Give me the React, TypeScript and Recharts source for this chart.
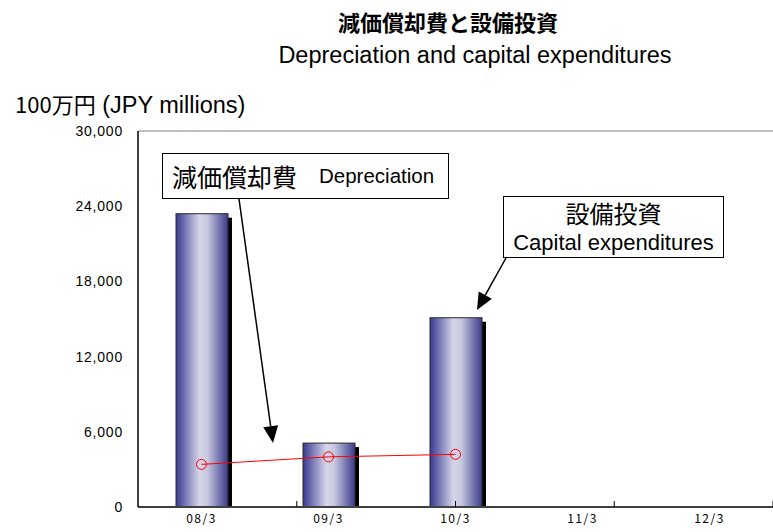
import React from 'react';
import { ComposedChart, Bar, Line, XAxis, YAxis, ReferenceLine } from 'recharts';

const categories = ['08/3', '09/3', '10/3', '11/3', '12/3'];
const capex = [23400, 5100, 15100, null, null];
const depreciation = [3400, 4000, 4200, null, null];
const yTicks = [0, 6000, 12000, 18000, 24000, 30000];
const bandTicks = [1, 2, 3, 4];

const data = categories.map((c, i) => ({ name: c, capex: capex[i], depreciation: depreciation[i] }));

const SANS = '"Liberation Sans", Arial, sans-serif';
const JP = '"Noto Sans CJK JP", sans-serif';

// bar with the drop shadow and the cylinder-like shading
const ShadedBar = (props: any) => {
    const { x, y, width, height } = props;
    if (!height || height <= 0) return null;
    return (
        <g>
            <rect x={x + 4} y={y + 4} width={width} height={height - 4} fill="#000" />
            <rect x={x} y={y} width={width} height={height} fill="url(#barShade)" stroke="#2a2a2a" strokeWidth={1} />
        </g>
    );
};

// y tick label, drawn by hand so the size sticks
const YTick = (props: any) => {
    const { x, y, payload } = props;
    return (
        <text x={x} y={y} dy={5} textAnchor="end" fontSize={14} fontFamily={SANS} fill="#000" letterSpacing={0.8}>
            {Number(payload.value).toLocaleString('en-US')}
        </text>
    );
};

const XTick = (props: any) => {
    const { x, y, payload } = props;
    return (
        <text x={x} y={y} dy={11} textAnchor="middle" fontSize={12} fontFamily={JP} fill="#000" letterSpacing={1.5}>
            {payload.value}
        </text>
    );
};

// arrow line with a filled head at the tip
const Arrow = ({ x1, y1, x2, y2 }: { x1: number; y1: number; x2: number; y2: number }) => {
    const dx = x2 - x1;
    const dy = y2 - y1;
    const len = Math.sqrt(dx * dx + dy * dy);
    const ux = dx / len;
    const uy = dy / len;
    const headLen = 17;
    const half = 7.5;
    const bx = x2 - ux * headLen;
    const by = y2 - uy * headLen;
    const pts = `${x2},${y2} ${bx - uy * half},${by + ux * half} ${bx + uy * half},${by - ux * half}`;
    return (
        <g>
            <line x1={x1} y1={y1} x2={bx} y2={by} stroke="#000" strokeWidth={1.5} />
            <polygon points={pts} fill="#000" />
        </g>
    );
};

const App: React.FC = () => {
    return (
        <div style={{ position: 'relative', width: 773, height: 532, background: '#fff', overflow: 'hidden' }}>
            <style>{`body { margin: 0; }`}</style>
            <ComposedChart
                width={773}
                height={532}
                data={data}
                margin={{ top: 131, right: 0, left: 0, bottom: 0 }}
                barGap={0}
            >
                <defs>
                    <linearGradient id="barShade" x1="0" y1="0" x2="1" y2="0">
                        <stop offset="0%" stopColor="#383890" />
                        <stop offset="45%" stopColor="#d6d6ea" />
                        <stop offset="60%" stopColor="#c8c8e0" />
                        <stop offset="100%" stopColor="#3a3a8c" />
                    </linearGradient>
                </defs>
                <XAxis
                    dataKey="name"
                    height={25}
                    tickLine={false}
                    tickSize={0}
                    tickMargin={5}
                    axisLine={{ stroke: '#404040', strokeWidth: 2 }}
                    tick={<XTick />}
                />
                <XAxis
                    xAxisId="band"
                    type="number"
                    domain={[0, 5]}
                    ticks={bandTicks}
                    allowDataOverflow
                    mirror
                    axisLine={false}
                    tickSize={6}
                    tickLine={{ stroke: '#000' }}
                    tick={() => <g />}
                    height={25}
                />
                <YAxis
                    width={138}
                    domain={[0, 30000]}
                    ticks={yTicks}
                    tickLine={false}
                    tickSize={0}
                    tickMargin={15}
                    axisLine={{ stroke: '#000', strokeWidth: 1.5 }}
                    tick={<YTick />}
                />
                <YAxis
                    yAxisId="inner"
                    domain={[0, 30000]}
                    ticks={yTicks}
                    mirror
                    axisLine={false}
                    tickSize={7}
                    tickLine={{ stroke: '#000' }}
                    tick={() => <g />}
                />
                <ReferenceLine y={30000} stroke="#808080" strokeWidth={1} />
                <Bar
                    dataKey="capex"
                    barSize={52}
                    shape={<ShadedBar />}
                    isAnimationActive={false}
                />
                <Line
                    dataKey="depreciation"
                    stroke="#ff0000"
                    strokeWidth={1}
                    dot={{ r: 5, stroke: '#ff0000', strokeWidth: 1, fill: 'none' }}
                    activeDot={false}
                    isAnimationActive={false}
                />
            </ComposedChart>

            {/* titles */}
            <div style={{ position: 'absolute', left: 0, width: 896, top: 5, textAlign: 'center', fontFamily: JP, fontWeight: 'bold', fontSize: 22, lineHeight: '32px', color: '#000' }}>
                減価償却費と設備投資
            </div>
            <div style={{ position: 'absolute', left: 0, width: 950, top: 41, textAlign: 'center', fontFamily: SANS, fontSize: 23.5, lineHeight: '28px', color: '#000' }}>
                Depreciation and capital expenditures
            </div>
            <div style={{ position: 'absolute', left: 15, top: 89, fontFamily: SANS, fontSize: 23.5, lineHeight: '28px', color: '#000', whiteSpace: 'nowrap' }}>
                <span style={{ fontFamily: JP, fontSize: 22 }}>100万円</span> (JPY millions)
            </div>

            {/* annotation boxes */}
            <div style={{ position: 'absolute', left: 162, top: 153, width: 287, height: 46, border: '1.5px solid #000', background: '#fff', display: 'flex', alignItems: 'center', paddingLeft: 9, boxSizing: 'border-box', whiteSpace: 'nowrap' }}>
                <span style={{ fontFamily: JP, fontSize: 25 }}>減価償却費</span>
                <span style={{ fontFamily: SANS, fontSize: 20.5, marginLeft: 22 }}>Depreciation</span>
            </div>
            <div style={{ position: 'absolute', left: 503, top: 196, width: 221, height: 62, border: '1.5px solid #000', background: '#fff', boxSizing: 'border-box', textAlign: 'center', whiteSpace: 'nowrap' }}>
                <div style={{ fontFamily: JP, fontSize: 24, lineHeight: '28px', marginTop: 2 }}>設備投資</div>
                <div style={{ fontFamily: SANS, fontSize: 22, lineHeight: '26px', marginTop: 3 }}>Capital expenditures</div>
            </div>

            <svg width={773} height={532} style={{ position: 'absolute', left: 0, top: 0, pointerEvents: 'none' }}>
                <Arrow x1={239} y1={199} x2={273} y2={443} />
                <Arrow x1={506} y1={258} x2={477} y2={310} />
            </svg>
        </div>
    );
};

export default App;
